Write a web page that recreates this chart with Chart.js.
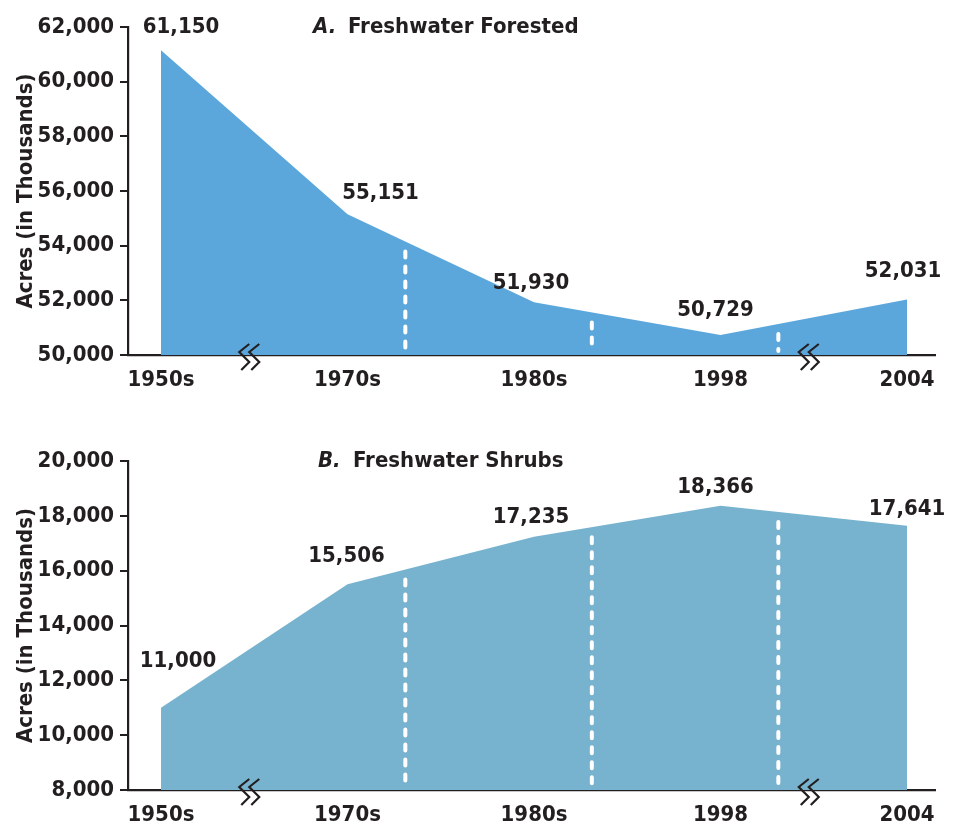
<!DOCTYPE html>
<html>
<head>
<meta charset="utf-8">
<script src="https://cdn.jsdelivr.net/npm/chart.js@4.4.1/dist/chart.umd.min.js"></script>
<style>
  body { margin: 0; background: #fff; }
  .panel { position: absolute; left: 0; width: 956px; }
  #panelA { top: 0; height: 410px; }
  #panelB { top: 410px; height: 413px; }
</style>
</head>
<body>
<div class="panel" id="panelA"><canvas id="chartA"></canvas></div>
<div class="panel" id="panelB"><canvas id="chartB"></canvas></div>
<script>
// periods along the x axis
const periods = ['1950s', '1970s', '1980s', '1998', '2004'];

// acres in thousands
const forestedValues = [61150, 55151, 51930, 50729, 52031];
const shrubValues = [11000, 15506, 17235, 18366, 17641];

const forestedTicks = [50000, 52000, 54000, 56000, 58000, 60000, 62000];
const shrubTicks = [8000, 10000, 12000, 14000, 16000, 18000, 20000];

const INK = '#231f20';
const FONT = "'Liberation Sans Narrow', 'DejaVu Sans Condensed', sans-serif";
const FS = 22;

// a dashed line is drawn a bit past each of these periods
const dashedAfter = [1, 2, 3];
// scale breaks sit halfway between these pairs
const breaksBetween = [[0, 1], [3, 4]];

function fmt(v) {
  return v.toLocaleString('en-US');
}

const panelPlugin = {
  id: 'panelExtras',
  afterDatasetsDraw(chart, args, opts) {
    const ctx = chart.ctx;
    const xs = chart.scales.x;
    const ys = chart.scales.y;
    const area = chart.chartArea;
    const data = chart.data.datasets[0].data;

    // white dashed separators inside the area
    ctx.save();
    ctx.strokeStyle = '#fff';
    ctx.lineWidth = 4;
    ctx.lineCap = 'round';
    ctx.setLineDash([6, 9]);
    dashedAfter.forEach(function (i) {
      const t = 0.31;
      const v = data[i].y + (data[i + 1].y - data[i].y) * t;
      const x = xs.getPixelForValue(i + t);
      ctx.beginPath();
      ctx.moveTo(x, ys.getPixelForValue(v) + 10);
      ctx.lineTo(x, area.bottom - 4);
      ctx.stroke();
    });
    ctx.restore();

    // value labels
    ctx.save();
    ctx.fillStyle = INK;
    ctx.font = 'bold ' + FS + 'px ' + FONT;
    ctx.textAlign = 'center';
    ctx.textBaseline = 'middle';
    data.forEach(function (p, i) {
      const off = opts.labelOffsets[i];
      ctx.fillText(fmt(p.y), xs.getPixelForValue(p.x) + off[0], ys.getPixelForValue(p.y) + off[1]);
    });
    ctx.restore();

    // title, letter in italics
    ctx.save();
    ctx.fillStyle = INK;
    ctx.textBaseline = 'middle';
    ctx.textAlign = 'left';
    ctx.font = 'italic bold ' + FS + 'px ' + FONT;
    ctx.fillText(opts.letter, opts.titleX, area.top);
    ctx.font = 'bold ' + FS + 'px ' + FONT;
    ctx.fillText(opts.title, opts.titleX + 35, area.top);
    ctx.restore();
  },
  afterDraw(chart) {
    // break marks on the x axis
    const ctx = chart.ctx;
    const xs = chart.scales.x;
    const yb = chart.chartArea.bottom;
    ctx.save();
    ctx.strokeStyle = INK;
    ctx.lineWidth = 2.2;
    breaksBetween.forEach(function (pair) {
      const cx = xs.getPixelForValue((pair[0] + pair[1]) / 2) - 5;
      [-5, 5].forEach(function (dx) {
        const x = cx + dx;
        ctx.beginPath();
        ctx.moveTo(x + 5, yb - 11);
        ctx.lineTo(x - 5, yb - 3);
        ctx.lineTo(x + 5, yb + 7);
        ctx.lineTo(x - 3, yb + 15);
        ctx.stroke();
      });
    });
    ctx.restore();
  }
};

function makePanel(id, values, ticks, color, o) {
  const points = values.map(function (v, i) { return { x: i, y: v }; });
  return new Chart(document.getElementById(id), {
    type: 'line',
    data: {
      datasets: [{
        data: points,
        fill: 'start',
        backgroundColor: color,
        borderWidth: 0,
        pointRadius: 0,
        tension: 0
      }]
    },
    plugins: [panelPlugin],
    options: {
      responsive: true,
      maintainAspectRatio: false,
      animation: false,
      events: [],
      layout: { padding: { top: o.top, right: 21, left: 0, bottom: 0 } },
      plugins: {
        legend: { display: false },
        tooltip: { enabled: false },
        panelExtras: o
      },
      scales: {
        x: {
          type: 'linear',
          min: -0.177,
          max: 4.15,
          afterBuildTicks: function (s) {
            s.ticks = periods.map(function (p, i) { return { value: i }; });
          },
          afterFit: function (s) { s.height = o.xHeight; },
          grid: { display: false },
          border: { display: true, color: INK, width: 2.2 },
          ticks: {
            autoSkip: false,
            maxRotation: 0,
            padding: 4,
            color: INK,
            font: { family: FONT, size: FS, weight: 'bold' },
            callback: function (v) { return periods[v]; }
          }
        },
        y: {
          min: ticks[0],
          max: ticks[ticks.length - 1],
          afterBuildTicks: function (s) {
            s.ticks = ticks.map(function (v) { return { value: v }; });
          },
          afterFit: function (s) { s.width = 128; },
          grid: { display: true, drawOnChartArea: false, drawTicks: true, tickLength: 8, color: INK, lineWidth: 2 },
          border: { display: true, color: INK, width: 2.2 },
          ticks: {
            padding: 6,
            color: INK,
            font: { family: FONT, size: FS, weight: 'bold' },
            callback: function (v) { return fmt(v); }
          },
          title: {
            display: true,
            text: 'Acres (in Thousands)',
            color: INK,
            padding: { top: 13, bottom: 0 },
            font: { family: FONT, size: FS, weight: 'bold' }
          }
        }
      }
    }
  });
}

makePanel('chartA', forestedValues, forestedTicks, '#5ba7db', {
  top: 27, xHeight: 55, letter: 'A.', title: 'Freshwater Forested', titleX: 313,
  labelOffsets: [[20, -23], [33, -21], [-3, -19], [-5, -25], [-4, -28]]
});

makePanel('chartB', shrubValues, shrubTicks, '#77b3cf', {
  top: 51, xHeight: 33, letter: 'B.', title: 'Freshwater Shrubs', titleX: 318,
  labelOffsets: [[17, -46], [-1, -28], [-3, -20], [-5, -19], [0, -16]]
});
</script>
</body>
</html>
